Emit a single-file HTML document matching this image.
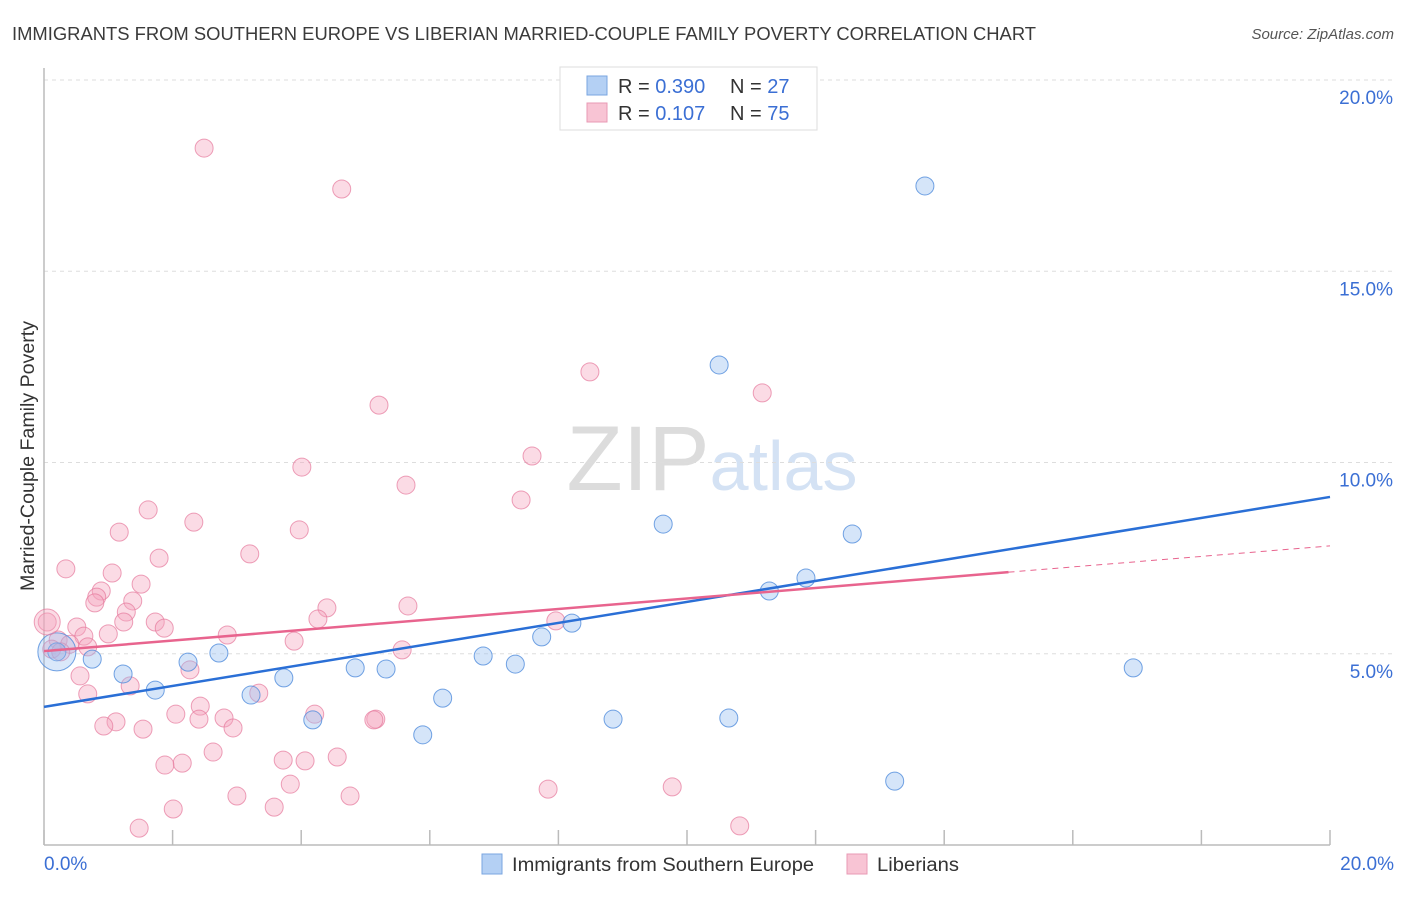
<!DOCTYPE html>
<html><head><meta charset="utf-8"><style>
body{margin:0;background:#fff;font-family:"Liberation Sans",sans-serif}
svg text{font-family:"Liberation Sans",sans-serif}
</style></head><body>
<svg id="c" width="1406" height="892" xmlns="http://www.w3.org/2000/svg">
<text x="12" y="40" font-size="18" fill="#3a3a3a" textLength="1024" lengthAdjust="spacingAndGlyphs">IMMIGRANTS FROM SOUTHERN EUROPE VS LIBERIAN MARRIED-COUPLE FAMILY POVERTY CORRELATION CHART</text>
<text x="1394" y="39" font-size="15" fill="#555" text-anchor="end" font-style="italic">Source: ZipAtlas.com</text>
<text x="712" y="490" font-size="92" fill="#e4e4e4" text-anchor="middle" font-family="Liberation Serif"><tspan fill="#dcdcdc">ZIP</tspan><tspan fill="#d4e2f4" font-family="Liberation Sans" font-size="70">atlas</tspan></text>
<text transform="translate(34,456) rotate(-90)" font-size="19" fill="#333" text-anchor="middle" textLength="270" lengthAdjust="spacingAndGlyphs">Married-Couple Family Poverty</text>
<g id="grid"></g><g id="marks"></g>
<g>
<rect x="560" y="67" width="257" height="63" fill="#fff" stroke="#ddd"/>
<rect x="587" y="76" width="20" height="19" fill="#b4d0f4" stroke="#7aa6e0"/>
<rect x="587" y="103" width="20" height="19" fill="#f8c4d4" stroke="#e89ab4"/>
<text x="618" y="93" font-size="20" fill="#333">R = <tspan fill="#3b6fd4">0.390</tspan><tspan x="730">N = </tspan><tspan fill="#3b6fd4">27</tspan></text>
<text x="618" y="120" font-size="20" fill="#333">R = <tspan fill="#3b6fd4"> 0.107</tspan><tspan x="730">N = </tspan><tspan fill="#3b6fd4">75</tspan></text>
</g>
<g>
<rect x="482" y="854" width="20" height="20" fill="#b4d0f4" stroke="#7aa6e0"/>
<text x="512" y="871" font-size="19" fill="#333" textLength="302" lengthAdjust="spacingAndGlyphs">Immigrants from Southern Europe</text>
<rect x="847" y="854" width="20" height="20" fill="#f8c4d4" stroke="#e89ab4"/>
<text x="877" y="871" font-size="19" fill="#333" textLength="82" lengthAdjust="spacingAndGlyphs">Liberians</text>
</g>
</svg>
<script>
const yTicks=[5,10,15,20];
const xTickLabels=["0.0%","20.0%"];
const blueX=[0.20,0.75,1.23,1.73,2.24,2.72,3.22,3.73,4.18,4.84,5.32,5.89,6.20,6.83,7.33,7.74,8.21,8.85,9.63,10.50,10.65,11.28,11.85,12.57,13.23,13.70,16.94];
const blueY=[5.05,4.86,4.47,4.05,4.78,5.02,3.92,4.37,3.27,4.63,4.60,2.88,3.84,4.94,4.73,5.44,5.80,3.29,8.39,12.55,3.32,6.64,6.98,8.13,1.67,17.23,4.63];
const pinkX=[2.49,4.63,8.49,11.17,5.21,7.59,4.01,5.63,7.42,1.62,2.33,3.97,1.17,1.79,3.20,0.34,1.06,1.51,0.89,0.82,0.79,1.38,1.28,4.40,5.66,1.24,1.73,1.87,4.26,7.96,0.05,0.51,1.00,0.62,2.85,3.89,0.22,0.40,0.68,0.12,0.26,5.57,2.27,0.56,1.34,0.68,3.34,2.43,2.05,4.21,2.80,2.41,5.16,5.13,1.12,0.93,2.94,1.54,2.63,4.56,3.72,4.06,2.15,1.88,3.83,7.84,9.77,3.00,4.76,3.58,2.01,1.48,10.82];
const pinkY=[18.22,17.15,12.37,11.82,11.50,10.17,9.88,9.41,9.02,8.76,8.44,8.24,8.18,7.50,7.61,7.22,7.11,6.82,6.64,6.48,6.33,6.38,6.09,6.20,6.25,5.83,5.83,5.67,5.91,5.86,5.83,5.70,5.52,5.46,5.49,5.33,5.36,5.25,5.18,5.12,5.05,5.10,4.58,4.42,4.16,3.95,3.97,3.63,3.42,3.42,3.32,3.29,3.29,3.27,3.22,3.11,3.06,3.03,2.43,2.30,2.22,2.20,2.14,2.09,1.59,1.46,1.52,1.28,1.28,0.99,0.94,0.44,0.50];
const blueTrend=[3.61,9.10];   // y at x=0 and x=20
const pinkTrend=[5.07,7.82];
const pinkSolidEnd=15.0;
const NS="http://www.w3.org/2000/svg";
const L=44,R=1330,T=80,B=845;
const xs=v=>L+(R-L)*v/20, ys=v=>B-(B-T)*v/20;
function el(t,a,p){const e=document.createElementNS(NS,t);for(const k in a)e.setAttribute(k,a[k]);p.appendChild(e);return e;}
const g=document.getElementById('grid'),m=document.getElementById('marks');
yTicks.forEach(t=>{
 const l=el('line',{x1:L,x2:R+64,y1:ys(t),y2:ys(t),stroke:'#ddd','stroke-dasharray':'4,4'},g);
 
 
 const tx=el('text',{x:1393,y:ys(t)+24,'font-size':19,fill:'#3b6fd4','text-anchor':'end'},g);
 tx.textContent=t.toFixed(1)+'%';
 
 
});
const ax=el('line',{x1:L,x2:L,y1:68,y2:B,stroke:'#bbb','stroke-width':1.5},g);


const bx=el('line',{x1:L,x2:R,y1:B,y2:B,stroke:'#bbb','stroke-width':1.5},g);


for(let i=0;i<=10;i++){
 const tk=el('line',{x1:xs(i*2),x2:xs(i*2),y1:830,y2:B,stroke:'#bbb','stroke-width':1.5},g);
 
 
}
[[0,'start',44],[20,'end',1394]].forEach((d,i)=>{
 const tx=el('text',{x:d[2],y:870,'font-size':19,fill:'#3b6fd4','text-anchor':d[1]},g);
 tx.textContent=xTickLabels[i];
 
 
});
function pts(X,Y,fill,stroke,name){
 X.forEach((x,i)=>{
  const c=el('circle',{cx:xs(x),cy:ys(Y[i]),r:9,fill:fill,stroke:stroke,'stroke-width':1},m);
  
  
 });
}
pts(pinkX,pinkY,'rgba(245,165,190,0.4)','rgba(230,120,155,0.7)','liberian-point');
pts(blueX,blueY,'rgba(150,190,240,0.4)','rgba(80,140,220,0.8)','immigrant-point');
const big=el('circle',{cx:xs(0.2),cy:ys(5.05),r:19,fill:'rgba(150,190,240,0.35)',stroke:'rgba(80,140,220,0.8)'},m);


const bp=el('circle',{cx:xs(0.05),cy:ys(5.83),r:13,fill:'rgba(245,165,190,0.4)',stroke:'rgba(230,120,155,0.7)'},m);


const py=x=>pinkTrend[0]+(pinkTrend[1]-pinkTrend[0])*x/20;
const bt=el('line',{x1:xs(0),y1:ys(blueTrend[0]),x2:xs(20),y2:ys(blueTrend[1]),stroke:'#2a6fd6','stroke-width':2.5},m);


const pt=el('line',{x1:xs(0),y1:ys(py(0)),x2:xs(pinkSolidEnd),y2:ys(py(pinkSolidEnd)),stroke:'#e8648e','stroke-width':2.5},m);


const pd=el('line',{x1:xs(pinkSolidEnd),y1:ys(py(pinkSolidEnd)),x2:xs(20),y2:ys(py(20)),stroke:'#e8648e','stroke-width':1,'stroke-dasharray':'6,5'},m);


</script>
</body></html>
